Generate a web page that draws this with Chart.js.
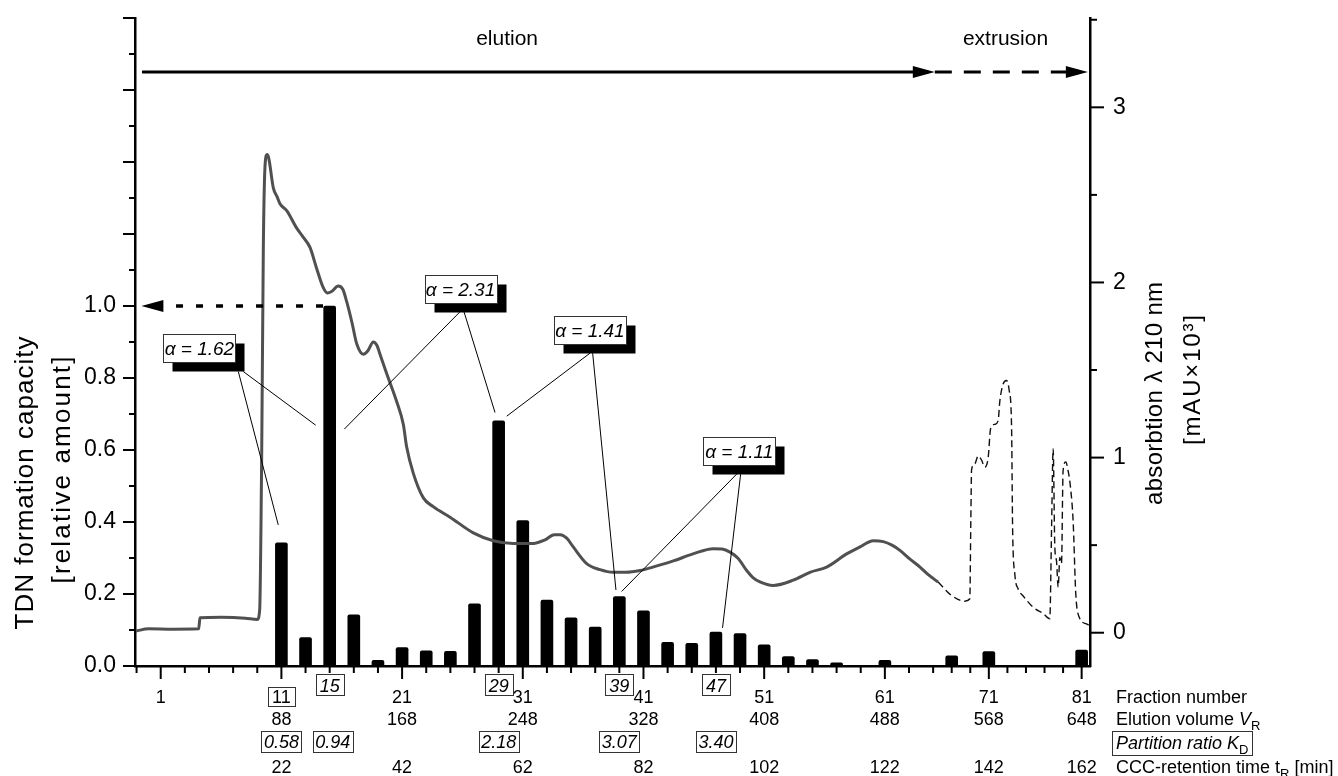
<!DOCTYPE html>
<html>
<head>
<meta charset="utf-8">
<script src="https://cdn.jsdelivr.net/npm/chart.js@4.4.1/dist/chart.umd.min.js"></script>
<style>
  html, body { margin: 0; padding: 0; background: #fff; }
  canvas { display: block; }
</style>
</head>
<body>
<canvas id="ccc" width="1338" height="776"></canvas>
<script>
// axis labels under the plot (fraction number, elution volume, retention time)
const fractionTicks = [1, 11, 21, 31, 41, 51, 61, 71, 81];
const elutionVolumes = [null, 88, 168, 248, 328, 408, 488, 568, 648];
const retentionTimes = [null, 22, 42, 62, 82, 102, 122, 142, 162];

// TDN formation capacity (bars, left axis)
const barFractions = [11, 13, 15, 17, 19, 21, 23, 25, 27, 29, 31, 33, 35, 37, 39, 41, 43, 45, 47, 49, 51, 53, 55, 57, 61, 67, 71, 81];
const barValues = [0.342, 0.079, 1.0, 0.142, 0.016, 0.051, 0.042, 0.041, 0.173, 0.681, 0.404, 0.183, 0.134, 0.108, 0.193, 0.153, 0.066, 0.063, 0.094, 0.090, 0.059, 0.026, 0.018, 0.009, 0.016, 0.028, 0.040, 0.044];

// boxed fractions and their partition ratios K_D
const markedFractions = [11, 15, 29, 39, 47];
const partitionRatios = ['0.58', '0.94', '2.18', '3.07', '3.40'];

// UV trace during elution (solid, right axis)
const uvFractions = [-1.05, 0, 2, 4.15, 4.25, 6, 8, 9, 9.2, 9.37, 9.5, 9.64, 9.81, 9.95, 10.33, 10.64, 10.88, 11.44, 12.27, 12.79, 13.37, 13.92, 14.47, 14.8, 15.19, 15.71, 16.1, 16.41, 16.85, 17.24, 17.79, 18.17, 18.61, 18.92, 19.17, 19.72, 20.55, 21.1, 21.38, 21.93, 22.76, 23.58, 24.97, 26.9, 28.56, 30.21, 31.87, 32.84, 33.6, 34.1, 34.64, 35.18, 36.29, 37.4, 38.5, 39.55, 40.71, 42.04, 43.47, 45.1, 46.78, 47.5, 48.17, 48.83, 49.55, 50.07, 50.65, 51.75, 53.41, 54.79, 56.18, 57.83, 58.94, 60.04, 60.87, 61.59, 62.25, 63.08, 63.91, 64.57, 65.54];
const uvValues = [0.01, 0.022, 0.02, 0.022, 0.085, 0.088, 0.083, 0.075, 0.13, 1.04, 2.18, 2.66, 2.73, 2.71, 2.54, 2.49, 2.45, 2.41, 2.31, 2.26, 2.2, 2.08, 1.97, 1.94, 1.95, 1.98, 1.96, 1.89, 1.77, 1.65, 1.59, 1.61, 1.66, 1.64, 1.59, 1.48, 1.32, 1.19, 1.06, 0.91, 0.77, 0.72, 0.66, 0.57, 0.525, 0.51, 0.51, 0.53, 0.56, 0.56, 0.54, 0.49, 0.395, 0.36, 0.345, 0.345, 0.355, 0.38, 0.41, 0.45, 0.48, 0.478, 0.46, 0.425, 0.355, 0.315, 0.29, 0.27, 0.3, 0.345, 0.375, 0.45, 0.49, 0.525, 0.52, 0.5, 0.47, 0.42, 0.375, 0.333, 0.289];

// UV trace during extrusion (dashed, right axis)
const extFractions = [65.54, 66.98, 68.42, 68.95, 69.06, 69.14, 69.49, 69.85, 70.22, 70.57, 70.93, 71.19, 71.65, 72.0, 72.19, 72.54, 72.91, 73.19, 73.45, 73.56, 73.8, 74.16, 74.7, 75.78, 76.85, 77.57, 77.76, 77.93, 78.11, 78.29, 78.47, 78.65, 78.83, 79.0, 79.29, 79.54, 79.8, 80.08, 80.37, 80.73, 81.52, 81.88];
const extValues = [0.289, 0.213, 0.18, 0.194, 0.64, 0.93, 0.965, 1.01, 0.985, 0.945, 1.0, 1.165, 1.19, 1.21, 1.325, 1.42, 1.44, 1.385, 1.175, 0.6, 0.335, 0.25, 0.21, 0.145, 0.11, 0.08, 0.6, 1.05, 0.49, 0.41, 0.26, 0.43, 0.395, 0.925, 0.975, 0.925, 0.83, 0.64, 0.22, 0.09, 0.05, 0.04];

// separation factors: box centre and leader lines (fraction, relative amount)
const alphaLabels = ['1.62', '2.31', '1.41', '1.11'];
const alphaAnchors = [[4.21, 0.882], [25.84, 1.047], [36.56, 0.933], [48.93, 0.598]];
const alphaLeaders = [
  [[7.43, 0.818, 10.74, 0.392], [7.84, 0.818, 13.84, 0.669]],
  [[25.80, 0.984, 16.21, 0.658], [26.13, 0.984, 28.70, 0.704]],
  [[36.57, 0.869, 29.67, 0.694], [36.79, 0.869, 38.72, 0.211]],
  [[48.72, 0.533, 39.19, 0.207], [49.05, 0.533, 47.55, 0.106]]
];

// phases shown at the top
const phaseLabels = ['elution', 'extrusion'];
const phaseFrom = [-0.55, 65.18];
const phaseTo = [65.18, 81.67];
const phaseLabelAt = [29.7, 72.8];

// fractions after 65 were collected faster, axis is compressed there
const warp = f => f <= 65 ? f : 65 + (f - 65) * 0.769;

const FONT = "'Liberation Sans', Arial, sans-serif";

function xy(fs, vs) {
  return fs.map((f, i) => ({ x: warp(f), y: vs[i] }));
}

function line(ctx, x1, y1, x2, y2) {
  ctx.beginPath();
  ctx.moveTo(x1, y1);
  ctx.lineTo(x2, y2);
  ctx.stroke();
}

function arrowHead(ctx, tipX, tipY, dir) {
  ctx.beginPath();
  ctx.moveTo(tipX, tipY);
  ctx.lineTo(tipX - dir * 22, tipY - 6);
  ctx.lineTo(tipX - dir * 22, tipY + 6);
  ctx.closePath();
  ctx.fill();
}

function fitText(ctx, str, cx, cy, font, length) {
  ctx.save();
  ctx.translate(cx, cy);
  ctx.rotate(-Math.PI / 2);
  ctx.font = font;
  ctx.letterSpacing = '0px';
  const w = ctx.measureText(str).width;
  const sp = Math.max(0, (length - w) / (str.length - 1));
  ctx.letterSpacing = sp.toFixed(2) + 'px';
  ctx.textAlign = 'left';
  ctx.textBaseline = 'alphabetic';
  ctx.fillText(str, -length / 2, 0);
  ctx.restore();
}

function boxed(ctx, str, cx, base, font, w, h) {
  ctx.strokeStyle = '#333';
  ctx.lineWidth = 1;
  ctx.strokeRect(Math.round(cx - w / 2) + 0.5, Math.round(base - h + 3.5) + 0.5, w, h);
  ctx.font = font;
  ctx.textAlign = 'center';
  ctx.fillText(str, cx, base);
}

function rich(ctx, parts, x, base) {
  ctx.textAlign = 'left';
  parts.forEach(([s, font, dy]) => {
    ctx.font = font;
    ctx.fillText(s, x, base + dy);
    x += ctx.measureText(s).width;
  });
  return x;
}

const overlay = {
  id: 'overlay',
  afterDraw(chart) {
    const { ctx, chartArea: area } = chart;
    const { x, y, y2 } = chart.scales;
    const px = f => x.getPixelForValue(warp(f));
    const py = v => y.getPixelForValue(v);
    ctx.save();
    ctx.fillStyle = '#000';
    ctx.strokeStyle = '#000';
    ctx.textBaseline = 'alphabetic';

    // tick marks
    ctx.lineWidth = 2;
    for (let f = -1; f <= 81; f += 2) {
      const xx = px(f);
      line(ctx, xx, area.bottom, xx, area.bottom + (fractionTicks.includes(f) ? 13 : 7));
    }
    for (let i = 0; i <= 18; i++) {
      const yy = py(i / 10);
      line(ctx, area.left - (i % 2 ? 6 : 12), yy, area.left, yy);
    }
    for (let i = 0; i <= 7; i++) {
      const yy = y2.getPixelForValue(i / 2);
      line(ctx, area.right, yy, area.right + (i % 2 ? 7 : 14), yy);
    }

    // axis titles
    fitText(ctx, 'TDN formation capacity', 33, 483, '26px ' + FONT, 293);
    fitText(ctx, '[relative amount]', 70, 470, '26px ' + FONT, 227);
    fitText(ctx, 'absorbtion \u03bb 210 nm', 1162, 393.5, '24px ' + FONT, 223);
    fitText(ctx, '[mAU\u00d710\u00b3]', 1200, 380, '24px ' + FONT, 130);

    // phase arrows at the top
    const ay = py(1.65);
    ctx.lineWidth = 3;
    line(ctx, px(phaseFrom[0]), ay, px(phaseTo[0]) - 20, ay);
    arrowHead(ctx, px(phaseTo[0]), ay, 1);
    ctx.setLineDash([17, 12]);
    line(ctx, px(phaseFrom[1]), ay, px(phaseTo[1]) - 20, ay);
    ctx.setLineDash([]);
    arrowHead(ctx, px(phaseTo[1]), ay, 1);
    ctx.font = '21px ' + FONT;
    ctx.textAlign = 'center';
    phaseLabels.forEach((s, i) => ctx.fillText(s, px(phaseLabelAt[i]), py(1.744) + 7));

    // dotted arrow to the maximum
    ctx.lineWidth = 3.5;
    ctx.setLineDash([7, 13]);
    line(ctx, px(14.45), py(1), px(-0.6) + 20, py(1));
    ctx.setLineDash([]);
    arrowHead(ctx, px(-0.6), py(1), -1);

    // separation factor boxes
    ctx.lineWidth = 1;
    alphaLeaders.forEach(pair => pair.forEach(([f1, v1, f2, v2]) => line(ctx, px(f1), py(v1), px(f2), py(v2))));
    alphaLabels.forEach((a, i) => {
      const cx = px(alphaAnchors[i][0]), cy = py(alphaAnchors[i][1]);
      const w = 72, h = 28, l = Math.round(cx - w / 2), t = Math.round(cy - h / 2);
      ctx.fillStyle = '#000';
      ctx.fillRect(l + 9.5, t + 9.5, w, h);
      ctx.fillStyle = '#fff';
      ctx.fillRect(l, t, w, h);
      ctx.strokeStyle = '#333';
      ctx.strokeRect(l + 0.5, t + 0.5, w, h);
      ctx.fillStyle = '#000';
      ctx.font = 'italic 19px ' + FONT;
      ctx.textAlign = 'center';
      ctx.fillText('\u03b1 = ' + a, cx, cy + 7);
    });

    // rows under the x axis
    const b = area.bottom;
    const num = '18px ' + FONT, numIt = 'italic 18px ' + FONT;
    ctx.fillStyle = '#000';
    ctx.textAlign = 'center';
    fractionTicks.forEach((f, i) => {
      const xx = px(f);
      if (markedFractions.includes(f)) boxed(ctx, String(f), xx, b + 36.5, num, 27, 19);
      else { ctx.font = num; ctx.textAlign = 'center'; ctx.fillText(String(f), xx, b + 36.5); }
      ctx.font = num;
      ctx.textAlign = 'center';
      if (elutionVolumes[i] !== null) ctx.fillText(String(elutionVolumes[i]), xx, b + 59);
      if (retentionTimes[i] !== null) ctx.fillText(String(retentionTimes[i]), xx, b + 107.3);
    });
    markedFractions.forEach((f, i) => {
      const xx = px(f);
      if (!fractionTicks.includes(f)) boxed(ctx, String(f), xx, b + 25.7, numIt, 28, 21);
      boxed(ctx, partitionRatios[i], xx + (i === 1 ? 3 : 0), b + 82, numIt, 40, 21);
    });

    const rx = area.right + 26;
    const sub = '13px ' + FONT;
    rich(ctx, [['Fraction number', num, 0]], rx, b + 36.5);
    rich(ctx, [['Elution volume ', num, 0], ['V', numIt, 0], ['R', sub, 5]], rx, b + 59);
    ctx.strokeStyle = '#333';
    ctx.lineWidth = 1;
    ctx.strokeRect(area.right + 22.5, b + 65.5, 140, 24);
    rich(ctx, [['Partition ratio K', numIt, 0], ['D', sub, 5]], rx, b + 83);
    rich(ctx, [['CCC-retention time t', num, 0], ['R', sub, 5], [' [min]', num, 0]], rx, b + 107.3);

    ctx.restore();
  }
};

new Chart(document.getElementById('ccc'), {
  type: 'bar',
  data: {
    datasets: [
      {
        type: 'line',
        data: xy(uvFractions, uvValues),
        yAxisID: 'y2',
        borderColor: '#505050',
        borderWidth: 3,
        pointRadius: 0,
        cubicInterpolationMode: 'monotone'
      },
      {
        type: 'line',
        data: xy(extFractions, extValues),
        yAxisID: 'y2',
        borderColor: '#111',
        borderWidth: 1.4,
        borderDash: [7, 4],
        pointRadius: 0,
        cubicInterpolationMode: 'monotone'
      },
      {
        type: 'bar',
        data: xy(barFractions, barValues),
        yAxisID: 'y',
        backgroundColor: '#000',
        barThickness: 12,
        borderRadius: 2
      }
    ]
  },
  options: {
    responsive: false,
    animation: false,
    layout: { padding: { top: 18 } },
    plugins: { legend: { display: false }, tooltip: { enabled: false } },
    scales: {
      x: {
        type: 'linear',
        offset: false,
        min: -1.13,
        max: warp(81.9),
        grid: { display: false, drawTicks: false },
        border: { display: true, color: '#000', width: 2.5 },
        ticks: { display: false },
        afterFit: s => { s.height = 110; }
      },
      y: {
        position: 'left',
        min: 0,
        max: 1.8,
        grid: { display: false, tickLength: 12 },
        border: { display: true, color: '#000', width: 2.5 },
        ticks: { color: '#000', padding: 7, font: { family: FONT, size: 23 }, callback: v => v.toFixed(1) },
        afterBuildTicks: s => { s.ticks = [0, 0.2, 0.4, 0.6, 0.8, 1.0].map(v => ({ value: v })); },
        afterFit: s => { s.width = 135; s.paddingTop = 0; s.paddingBottom = 0; }
      },
      y2: {
        position: 'right',
        min: -0.19,
        max: 3.51,
        grid: { display: false, tickLength: 14 },
        border: { display: true, color: '#000', width: 2.5 },
        ticks: { color: '#000', padding: 9, font: { family: FONT, size: 23 }, callback: v => String(v) },
        afterBuildTicks: s => { s.ticks = [0, 1, 2, 3].map(v => ({ value: v })); },
        afterFit: s => { s.width = 248; s.paddingTop = 0; s.paddingBottom = 0; }
      }
    }
  },
  plugins: [overlay]
});
</script>
</body>
</html>
